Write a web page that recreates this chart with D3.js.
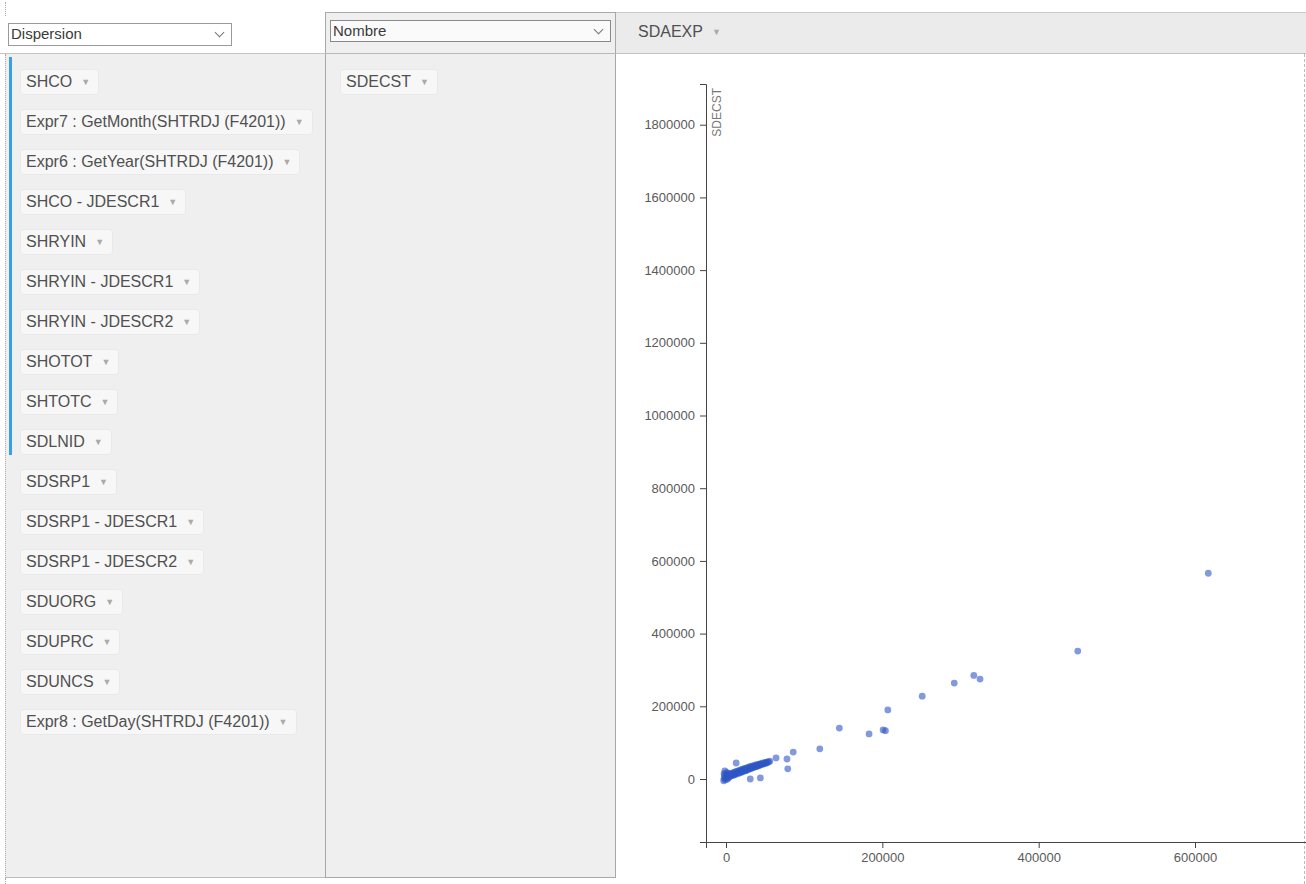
<!DOCTYPE html>
<html>
<head>
<meta charset="utf-8">
<script src="https://cdn.jsdelivr.net/npm/d3@7"></script>
<style>
  body { margin: 0; width: 1306px; height: 884px; background: #fff; font-family: "Liberation Sans", Arial, sans-serif; overflow: hidden; position: relative; }
  .abs { position: absolute; box-sizing: border-box; }
  .selectBox { background: #fff; border: 1px solid #9a9a9a; font-size: 15px; color: #3a3a3a; padding-left: 2px; line-height: 20px; }
  .chev { position: absolute; width: 6px; height: 6px; border-right: 1px solid #777; border-bottom: 1px solid #777; transform: rotate(45deg); top: 5px; }
  .pill { position: absolute; height: 24px; line-height: 24px; padding: 0 8px 0 5px; background: #f7f7f7; border-radius: 3px; box-shadow: 0 0 0 1px #e9e9e9; font-size: 16px; color: #505050; white-space: nowrap; }
  .pill .caret { color: #aaa; font-size: 9px; margin-left: 9px; vertical-align: 2px; }
  .axisLine path, .axisLine line { stroke: #444; }
  .axisText { fill: #5a5a5a; font-size: 13px; font-family: "Liberation Sans", Arial, sans-serif; }
</style>
</head>
<body>
<div id="root"></div>
<script>
// fields in the left (row) panel
const rowFields = ["SHCO", "Expr7 : GetMonth(SHTRDJ (F4201))", "Expr6 : GetYear(SHTRDJ (F4201))",
  "SHCO - JDESCR1", "SHRYIN", "SHRYIN - JDESCR1", "SHRYIN - JDESCR2", "SHOTOT", "SHTOTC",
  "SDLNID", "SDSRP1", "SDSRP1 - JDESCR1", "SDSRP1 - JDESCR2", "SDUORG", "SDUPRC", "SDUNCS",
  "Expr8 : GetDay(SHTRDJ (F4201))"];
const valueFields = ["SDECST"];
const columnFields = ["SDAEXP"];
const chartType = "Dispersion";
const aggregate = "Nombre";

// scatter values: SDAEXP (x) and SDECST (y)
const sdaexp = [
  617000, 450000, 317000, 325000, 292000, 251000, 207000, 201000, 204000, 183000, 145000,
  120000, 86000, 78000, 79000, 64000, 44000, 31000, 13000,
  -3000, -2500, -2000, -2500, -1500, -1000, 0, 500, 1000, 1500, 2000, 2500, 3000,
  4000, 4000, 6000, 6500, 7000, 8000, 9000, 9500, 10500, 11000, 11500, 12500, 13000, 13500,
  15000, 15500, 16000, 17000, 17500, 18000, 19000, 19500, 20000, 21000, 21500, 22000,
  23000, 23500, 24000, 25000, 25500, 26000, 27000, 27500, 28000, 29000, 29500, 30000,
  31000, 32000, 32500, 33500, 34000, 35000, 36000, 37000, 37500, 38500, 39000, 40000,
  41000, 42000, 42500, 43500, 44500, 45000, 46000, 47000, 48000, 49000, 50000, 51000,
  52000, 53000, 54500, 56000
];
const sdecst = [
  566000, 352000, 285000, 275000, 264000, 228000, 190000, 135000, 133000, 124000, 140000,
  83000, 74000, 55000, 28000, 58000, 3000, 0, 44000,
  -5000, 2000, 9000, 15000, 22000, -2000, 5000, 12000, 18000, -1000, 7000, 14000, 3000,
  6000, 14000, 8000, 16000, 11000, 9500, 17000, 12500, 11000, 19000, 15500, 13000, 21000, 17000,
  15000, 22500, 19000, 16500, 24000, 20500, 18000, 25500, 22000, 20000, 27000, 23500,
  21500, 28500, 25000, 23000, 30000, 26500, 24500, 31500, 28000, 26500, 33000, 29500,
  28000, 34500, 31000, 30000, 36000, 33000, 32000, 38000, 35000, 34000, 39500, 36500,
  36000, 41000, 38500, 38000, 42500, 40500, 40000, 44000, 42500, 42000, 45500, 44500,
  44000, 47000, 46500, 49000
];

const root = d3.select("#root");

// top-left select
const sel = root.append("div").attr("class", "abs selectBox")
  .style("left", "8px").style("top", "23px").style("width", "224px").style("height", "23px")
  .text(chartType);
sel.append("span").attr("class", "chev").style("left", "207px");
root.append("div").attr("class", "abs").style("left", "0px").style("top", "53px")
  .style("width", "325px").style("height", "1px").style("background", "#c4c4c4");

// left panel
root.append("div").attr("class", "abs")
  .style("left", "5px").style("top", "54px").style("width", "321px").style("height", "824px")
  .style("background", "#efefef").style("border-left", "1px dotted #aaa")
  .style("border-right", "1px solid #999").style("border-bottom", "1px solid #bbb");
root.append("div").attr("class", "abs")
  .style("left", "9px").style("top", "57px").style("width", "3px").style("height", "398px")
  .style("background", "#3a9fe2");
root.append("div").attr("class", "abs")
  .style("left", "5px").style("top", "2px").style("width", "1px").style("height", "14px")
  .style("border-left", "1px dotted #aaa");
root.append("div").attr("class", "abs")
  .style("left", "5px").style("top", "878px").style("width", "1px").style("height", "6px")
  .style("border-left", "1px dotted #aaa");

const pill = (txt, left, top) => {
  const p = root.append("div").attr("class", "pill")
    .style("left", left + "px").style("top", top + "px");
  p.append("span").text(txt);
  p.append("span").attr("class", "caret").text("▼");
  return p;
};
rowFields.forEach((f, i) => pill(f, 21, 70 + i * 40));

// middle panel
root.append("div").attr("class", "abs")
  .style("left", "325px").style("top", "12px").style("width", "291px").style("height", "866px")
  .style("background", "#efefef").style("border", "1px solid #a8a8a8");
root.append("div").attr("class", "abs").style("left", "325px").style("top", "53px")
  .style("width", "291px").style("height", "1px").style("background", "#b8b8b8");
const sel2 = root.append("div").attr("class", "abs selectBox")
  .style("left", "330px").style("top", "20px").style("width", "281px").style("height", "22px")
  .style("background", "#fafafa").style("border-color", "#8a8a8a").text(aggregate);
sel2.append("span").attr("class", "chev").style("left", "264px");
valueFields.forEach((f, i) => pill(f, 341, 70 + i * 40));

// right header
root.append("div").attr("class", "abs")
  .style("left", "616px").style("top", "12px").style("width", "690px").style("height", "42px")
  .style("background", "#ebebeb").style("border-top", "1px solid #c8c8c8")
  .style("border-bottom", "1px solid #c0c0c0");
columnFields.forEach((f, i) => pill(f, 633, 20).style("background", "#ebebeb").style("box-shadow", "none"));

// right dashed edge
root.append("div").attr("class", "abs")
  .style("left", "1304px").style("top", "54px").style("width", "1px").style("height", "830px")
  .style("border-left", "1px dashed #bbb");

// chart
const W = 691, H = 830;
const svg = root.append("svg").attr("class", "abs")
  .style("left", "615px").style("top", "54px")
  .attr("width", W).attr("height", H);

const xScale = d3.scaleLinear().domain([-25600, 742000]).range([91, 691]);
const yScale = d3.scaleLinear().domain([-173300, 1912000]).range([788, 30]);

const xAxis = d3.axisBottom(xScale).ticks(4).tickFormat(d3.format("d"));
const yAxis = d3.axisLeft(yScale).ticks(10).tickFormat(d3.format("d")).tickPadding(5);

svg.append("g").attr("class", "axisLine")
  .attr("transform", `translate(0,${yScale.range()[0]})`)
  .call(xAxis)
  .selectAll("text").attr("class", "axisText").attr("y", 11);

svg.append("g").attr("class", "axisLine")
  .attr("transform", `translate(${xScale.range()[0]},0)`)
  .call(yAxis)
  .selectAll("text").attr("class", "axisText");

svg.selectAll(".axisLine .domain").attr("stroke", "#444");
svg.selectAll(".axisLine text").attr("fill", "#5a5a5a");

svg.append("text")
  .attr("transform", `translate(${xScale.range()[0]},${yScale.range()[1] + 4}) rotate(-90)`)
  .attr("y", 6).attr("dy", ".71em")
  .style("text-anchor", "end")
  .style("font-size", "12px").style("fill", "#777")
  .style("font-family", "'Liberation Sans', Arial, sans-serif")
  .text(valueFields[0]);

const points = sdaexp.map((x, i) => ({x, y: sdecst[i]}));
svg.append("g").selectAll("circle")
  .data(points)
  .enter().append("circle")
  .attr("cx", d => xScale(d.x))
  .attr("cy", d => yScale(d.y))
  .attr("r", 3.4)
  .attr("fill", "#2f56c4")
  .attr("fill-opacity", 0.6);
</script>
</body>
</html>
